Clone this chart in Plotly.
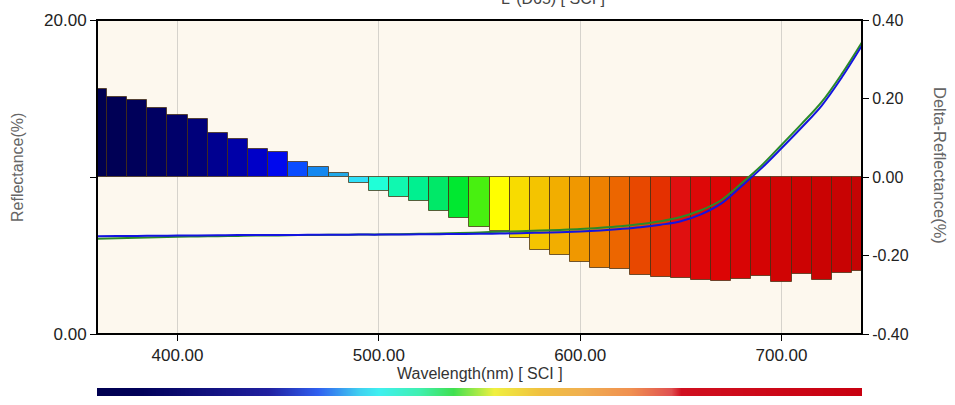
import plotly.graph_objects as go

wavelengths = [360, 370, 380, 390, 400, 410, 420, 430, 440, 450, 460, 470, 480, 490, 500,
               510, 520, 530, 540, 550, 560, 570, 580, 590, 600, 610, 620, 630, 640, 650,
               660, 670, 680, 690, 700, 710, 720, 730, 740]

delta_reflectance = [0.224, 0.204, 0.195, 0.176, 0.159, 0.148, 0.112, 0.097, 0.071, 0.063,
                     0.038, 0.025, 0.010, -0.015, -0.036, -0.050, -0.062, -0.086, -0.105, -0.128,
                     -0.138, -0.155, -0.185, -0.198, -0.217, -0.231, -0.234, -0.250, -0.256, -0.258,
                     -0.263, -0.266, -0.259, -0.253, -0.268, -0.246, -0.263, -0.245, -0.239]

reflectance_blue = [6.22, 6.24, 6.25, 6.26, 6.27, 6.28, 6.29, 6.30, 6.30, 6.31,
                    6.31, 6.32, 6.32, 6.33, 6.33, 6.34, 6.35, 6.36, 6.37, 6.38,
                    6.40, 6.42, 6.45, 6.48, 6.53, 6.60, 6.69, 6.80, 6.96, 7.18,
                    7.62, 8.30, 9.40, 10.55, 11.83, 13.15, 14.55, 16.35, 18.38]

reflectance_green = [6.07, 6.10, 6.13, 6.16, 6.19, 6.21, 6.23, 6.25, 6.27, 6.28,
                     6.30, 6.31, 6.32, 6.33, 6.34, 6.36, 6.38, 6.40, 6.43, 6.47,
                     6.51, 6.55, 6.59, 6.63, 6.68, 6.76, 6.86, 7.00, 7.18, 7.45,
                     7.88, 8.52, 9.58, 10.72, 12.04, 13.38, 14.78, 16.57, 18.58]

bar_colors = ["#000050", "#000055", "#00005a", "#000062", "#00006a", "#00007a", "#000090",
              "#0000a8", "#0000c8", "#0008ee", "#0a4cff", "#1488f0", "#20a8e8", "#30e0f8",
              "#20ffd8", "#10f8b0", "#00f090", "#00e868", "#00e830", "#48f010", "#ffff00",
              "#f8dc00", "#f4c400", "#f2ae00", "#f09800", "#ee8000", "#ec6600", "#e84800",
              "#e43000", "#e01010", "#dd0808", "#dc0505", "#d80505", "#d40404", "#d00404",
              "#cc0303", "#ca0303", "#c80303", "#c40404"]

x_ticks = [400, 500, 600, 700]
x_ticktext = ["400.00", "500.00", "600.00", "700.00"]
right_ticks = [-0.4, -0.2, 0.0, 0.2, 0.4]
right_ticktext = ["-0.40", "-0.20", "0.00", "0.20", "0.40"]
left_ticks = [0, 10, 20]
left_ticktext = ["0.00", "", "20.00"]

spectrum_scale = [
    [0.0, "#000050"], [0.0526, "#000058"], [0.224, "#2020a0"], [0.289, "#3060f0"],
    [0.342, "#40d0f0"], [0.368, "#40f0f0"], [0.421, "#40f0b0"], [0.466, "#40e050"],
    [0.518, "#f0f040"], [0.579, "#f0c040"], [0.632, "#f0b050"], [0.697, "#f09050"],
    [0.75, "#e05050"], [0.763, "#d01020"], [1.0, "#c80010"],
]

FONT = "Liberation Sans, Arial, sans-serif"

fig = go.Figure()

fig.add_trace(go.Bar(
    x=wavelengths, y=delta_reflectance, width=10,
    marker=dict(color=bar_colors, line=dict(color="rgba(70,45,15,0.75)", width=1)),
    xaxis="x", yaxis="y", showlegend=False, hoverinfo="skip",
))

fig.add_trace(go.Scatter(
    x=wavelengths, y=reflectance_green, mode="lines", line=dict(color="#2a8a2a", width=2, shape="spline"),
    xaxis="x", yaxis="y2", showlegend=False,
))
fig.add_trace(go.Scatter(
    x=wavelengths, y=reflectance_blue, mode="lines", line=dict(color="#1414e0", width=2, shape="spline"),
    xaxis="x", yaxis="y2", showlegend=False,
))

fig.add_trace(go.Heatmap(
    x=wavelengths, y=[0.5], z=[wavelengths], colorscale=spectrum_scale, zmin=360, zmax=740,
    zsmooth="best", showscale=False, xaxis="x", yaxis="y3", hoverinfo="skip",
))

main_bottom = 62 / 376

fig.update_layout(
    width=955, height=405,
    margin=dict(l=97, r=93, t=20, b=9, autoexpand=False),
    paper_bgcolor="white",
    plot_bgcolor="#fdf8ee",
    font=dict(family=FONT, color="#222", size=16),
    bargap=0,
    xaxis=dict(
        range=[360, 740], tickvals=x_ticks, ticktext=x_ticktext,
        showgrid=True, gridcolor="#d6d3cc", gridwidth=1,
        ticks="outside", ticklen=6, tickcolor="black", tickwidth=1,
        tickfont=dict(size=17, color="#222"), showline=False, zeroline=False,
        anchor="y", automargin=False,
    ),
    yaxis=dict(
        domain=[main_bottom, 1], range=[-0.4, 0.4], side="right",
        tickvals=right_ticks, ticktext=right_ticktext,
        ticks="outside", ticklen=6, tickcolor="black",
        tickfont=dict(size=16, color="#222"),
        showgrid=False, zeroline=False, showline=False, anchor="x", automargin=False,
    ),
    yaxis2=dict(
        range=[0, 20], side="left", overlaying="y",
        tickvals=left_ticks, ticktext=left_ticktext,
        ticks="outside", ticklen=6, tickcolor="black",
        tickfont=dict(size=17, color="#222"),
        showgrid=False, zeroline=False, showline=False, anchor="x", automargin=False,
    ),
    yaxis3=dict(
        domain=[0, 8 / 376], range=[0, 1], visible=False, anchor="x", automargin=False,
    ),
    shapes=[
        dict(type="rect", xref="x domain", yref="y domain", x0=0, x1=1, y0=0, y1=1,
             line=dict(color="black", width=2), fillcolor="rgba(0,0,0,0)", layer="above"),
    ],
    annotations=[
        dict(text="Wavelength(nm) [ SCI ]", xref="paper", yref="paper",
             x=(480 - 97) / 765, y=(396 - 373) / 376, showarrow=False,
             xanchor="center", yanchor="middle",
             font=dict(size=16, color="#333")),
        dict(text="Reflectance(%)", xref="paper", yref="paper",
             x=(18 - 97) / 765, y=(396 - 168) / 376, showarrow=False, textangle=-90,
             xanchor="center", yanchor="middle",
             font=dict(size=16, color="#666")),
        dict(text="Delta-Reflectance(%)", xref="paper", yref="paper",
             x=(940 - 97) / 765, y=(396 - 165) / 376, showarrow=False, textangle=90,
             xanchor="center", yanchor="middle",
             font=dict(size=16.5, color="#666")),
        dict(text="L*(D65) [ SCI ]", xref="paper", yref="paper",
             x=(553 - 97) / 765, y=(396 + 1) / 376, showarrow=False,
             xanchor="center", yanchor="middle",
             font=dict(size=16, color="#444")),
    ],
)

fig.write_html("out.html")
